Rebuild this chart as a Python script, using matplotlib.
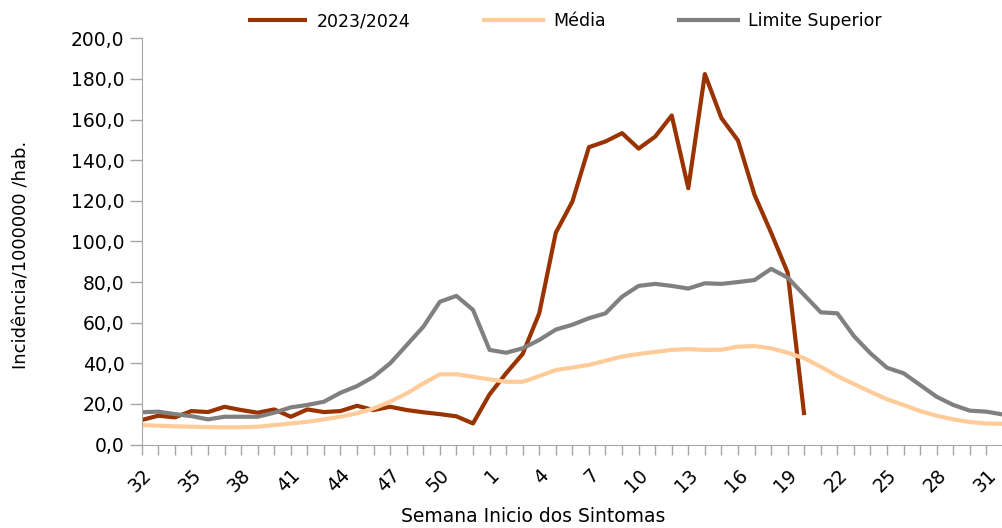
import numpy as np
import matplotlib
matplotlib.use("Agg")
import matplotlib.pyplot as plt
import matplotlib.transforms as mtransforms

weeks = [32, 33, 34, 35, 36, 37, 38, 39, 40, 41, 42, 43, 44, 45, 46, 47, 48, 49, 50, 51, 52,
         1, 2, 3, 4, 5, 6, 7, 8, 9, 10, 11, 12, 13, 14, 15, 16, 17, 18, 19, 20,
         21, 22, 23, 24, 25, 26, 27, 28, 29, 30, 31, 32]

atual = [12.1, 14.2, 13.4, 16.5, 16.0, 18.6, 17.0, 15.7, 17.3, 13.7, 17.3, 16.0, 16.5, 19.1,
         17.0, 18.6, 17.0, 15.9, 15.0, 13.9, 10.4, 24.7, 35.1, 44.6, 64.6, 104.3, 119.6, 146.4,
         149.2, 153.3, 145.7, 151.6, 162.0, 126.2, 182.4, 160.7, 149.7, 122.9, 104.3, 84.6, 14.5]

media = [9.6, 9.3, 9.0, 8.8, 8.6, 8.5, 8.5, 8.8, 9.6, 10.4, 11.2, 12.4, 13.7, 15.4, 17.8, 21.1,
         25.2, 30.1, 34.6, 34.6, 33.4, 32.1, 30.9, 30.9, 33.7, 36.7, 37.9, 39.2, 41.3, 43.3, 44.6,
         45.6, 46.6, 47.0, 46.6, 46.7, 48.2, 48.5, 47.4, 45.2, 42.5, 38.3, 33.7, 29.8, 26.0, 22.3,
         19.5, 16.5, 14.2, 12.4, 11.1, 10.4, 10.2]

limite = [15.9, 16.2, 15.0, 14.0, 12.4, 13.7, 13.7, 13.7, 15.7, 18.3, 19.5, 21.1, 25.5, 28.8,
          33.4, 40.0, 49.0, 58.0, 70.3, 73.2, 66.3, 46.6, 45.2, 47.4, 51.5, 56.6, 59.0, 62.2, 64.6,
          72.8, 78.1, 79.1, 78.1, 76.8, 79.4, 79.1, 80.0, 81.0, 86.5, 82.2, 73.6, 65.1, 64.6, 53.4,
          44.9, 37.8, 35.1, 29.3, 23.5, 19.5, 16.7, 16.2, 14.8]

fig = plt.figure(figsize=(10.03, 5.28), dpi=100)
ax = fig.add_axes([0.1413, 0.158, 0.8587, 0.7695])

ax.plot(range(len(atual)), atual, color="#993300", lw=3, label="2023/2024",
        solid_joinstyle="round", solid_capstyle="butt")
ax.plot(range(len(media)), media, color="#FFCC99", lw=3, label="Média",
        solid_joinstyle="round")
ax.plot(range(len(limite)), limite, color="#808080", lw=3, label="Limite Superior",
        solid_joinstyle="round")

ax.set_xlim(0, 51.5)
ax.set_ylim(0, 200)
yt = np.arange(0, 201, 20)
ax.set_yticks(yt)
ax.set_yticklabels([f"{v:.1f}".replace(".", ",") for v in yt], fontsize=13.5)

ax.set_xticks(range(len(weeks)), minor=True)
major = list(range(0, len(weeks), 3))
ax.set_xticks(major)
ax.set_xticklabels([str(weeks[i]) for i in major], rotation=45, ha="right",
                   rotation_mode="anchor", fontsize=13.5)
shift = mtransforms.ScaledTranslation(2 / 100, 0, fig.dpi_scale_trans)
for lab in ax.get_xticklabels():
    lab.set_transform(lab.get_transform() + shift)

for s in ["top", "right"]:
    ax.spines[s].set_visible(False)
for s in ["left", "bottom"]:
    ax.spines[s].set_color("#a6a6a6")
ax.tick_params(axis="x", which="both", color="#a6a6a6", length=7, width=1, pad=8)
ax.tick_params(axis="y", color="#a6a6a6", length=8.5, width=1, pad=4)

ax.set_ylabel("Incidência/1000000 /hab.", fontsize=13)
ax.yaxis.set_label_coords(-0.1297, 0.467)
ax.set_xlabel("Semana Inicio dos Sintomas", fontsize=13.5)
ax.xaxis.set_label_coords(0.4543, -0.154)

fig.legend(loc="upper center", bbox_to_anchor=(0.563, 1.006), ncol=3, frameon=False,
           fontsize=12.5, handlelength=3.4, columnspacing=4.2, handletextpad=0.6)

fig.savefig("out.png", dpi=100)
